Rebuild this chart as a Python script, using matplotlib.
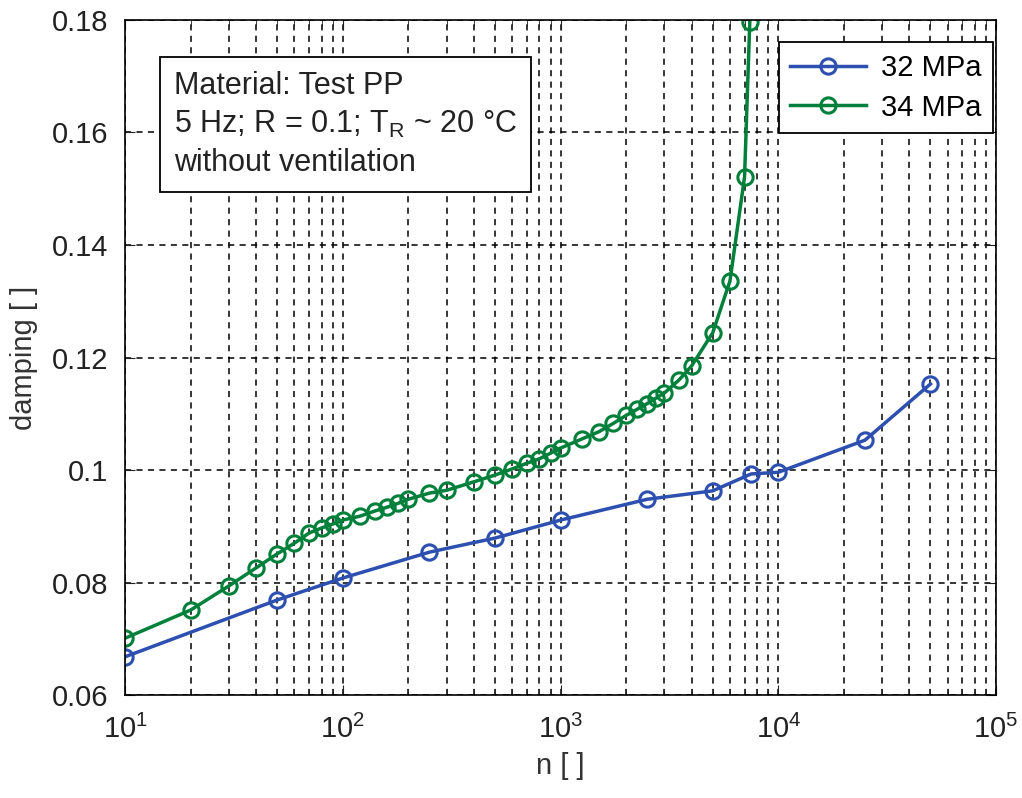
import numpy as np
import matplotlib.pyplot as plt
from matplotlib.ticker import LogLocator, NullFormatter

plt.rcParams['font.family'] = ['Liberation Sans', 'DejaVu Sans']
plt.rcParams['mathtext.fontset'] = 'custom'
plt.rcParams['mathtext.rm'] = 'Liberation Sans'

# 32 MPa
n_32 = [10, 50, 100, 250, 500, 1000, 2500, 5000, 7500, 10000, 25000, 50000]
d_32 = [0.0668, 0.0769, 0.0808, 0.0854, 0.0879, 0.0911, 0.0948, 0.0963,
        0.0993, 0.0996, 0.1053, 0.1153]

# 34 MPa
n_34 = [10, 20, 30, 40, 50, 60, 70, 80, 90, 100, 120, 140, 160, 180, 200,
        250, 300, 400, 500, 600, 700, 800, 900, 1000, 1250, 1500, 1750,
        2000, 2250, 2500, 2750, 3000, 3500, 4000, 5000, 6000, 7000, 7400]
d_34 = [0.0701, 0.0751, 0.0794, 0.0826, 0.0851, 0.0870, 0.0888, 0.0897,
        0.0904, 0.0911, 0.0918, 0.0927, 0.0934, 0.0941, 0.0948, 0.0959,
        0.0964, 0.0979, 0.0991, 0.1002, 0.1012, 0.1020, 0.1030, 0.1039,
        0.1055, 0.1068, 0.1083, 0.1097, 0.1108, 0.1118, 0.1128, 0.1137,
        0.1160, 0.1185, 0.1244, 0.1336, 0.1521, 0.1797]

y_ticks = [0.06, 0.08, 0.1, 0.12, 0.14, 0.16, 0.18]
y_labels = ['0.06', '0.08', '0.1', '0.12', '0.14', '0.16', '0.18']

fs = 21

fig = plt.figure(figsize=(10.22, 7.98), dpi=100)
ax = fig.add_axes([0.1223, 0.129, 0.8523, 0.846])

ax.plot(n_32, d_32, '-o', color='#2D50B0', lw=2.5, ms=11, mew=2.2,
        mfc='none', label='32 MPa')
ax.plot(n_34, d_34, '-o', color='#00803A', lw=2.5, ms=11, mew=2.2,
        mfc='none', label='34 MPa')

ax.set_xscale('log')
ax.set_xlim(10, 1e5)
ax.set_ylim(0.06, 0.18)
ax.set_yticks(y_ticks)
ax.set_yticklabels(y_labels)
ax.xaxis.set_major_locator(LogLocator(base=10, numticks=10))
ax.xaxis.set_minor_locator(LogLocator(base=10, subs=np.arange(2, 10), numticks=50))
ax.xaxis.set_minor_formatter(NullFormatter())

ax.grid(True, which='major', ls=(0, (4, 3.5)), color='black', lw=1.1)
ax.grid(True, which='minor', axis='x', ls=(0, (4, 3.5)), color='black', lw=1.1)
ax.tick_params(which='both', direction='in', top=True, right=True,
               labelsize=fs, colors='#222222')
ax.tick_params(which='major', length=7)
ax.tick_params(which='minor', length=4)
ax.tick_params(axis='y', pad=12)
ax.tick_params(axis='x', pad=14)
for s in ax.spines.values():
    s.set_linewidth(1.2)

ax.set_xlabel('n [ ]', fontsize=fs, color='#333333', labelpad=6)
ax.set_ylabel('damping [ ]', fontsize=fs, color='#333333', labelpad=10)

ax.text(0.056, 0.925,
        'Material: Test PP\n5 Hz; R = 0.1; T$_\\mathregular{R}$ ~ 20 °C\nwithout ventilation',
        transform=ax.transAxes, fontsize=fs + 1, va='top', ha='left',
        linespacing=1.35, color='#222222',
        bbox=dict(boxstyle='square,pad=0.45', fc='white', ec='black', lw=1.3))

leg = ax.legend(loc='upper right', bbox_to_anchor=(0.9965, 0.967), fontsize=fs,
                fancybox=False, edgecolor='black', framealpha=1,
                handlelength=2.6, handletextpad=0.5, borderaxespad=0,
                borderpad=0.4, labelspacing=0.4)
leg.get_frame().set_linewidth(1.3)

fig.savefig('out.png', dpi=100)
